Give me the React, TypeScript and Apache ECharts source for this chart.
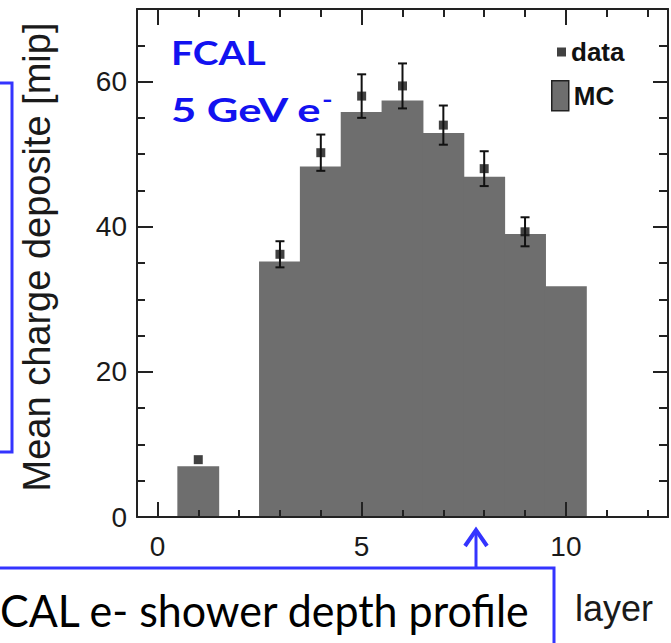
import React, { useEffect, useRef } from "react";
import * as echarts from "echarts";

// ---- data ----
const layers = [1, 2, 3, 4, 5, 6, 7, 8, 9, 10];
const mcValues = [7.0, 0, 35.2, 48.3, 55.8, 57.4, 52.9, 46.9, 39.0, 31.8];
const dataLayers = [1, 3, 4, 5, 6, 7, 8, 9];
const dataValues = [7.9, 36.2, 50.2, 58.0, 59.4, 54.0, 48.0, 39.3];
const dataErrors = [0, 1.8, 2.5, 3.0, 3.1, 2.7, 2.4, 2.0];
const xMajorTicks = [0, 5, 10];
const xMinorTicks = [0, 1, 2, 3, 4, 5, 6, 7, 8, 9, 10, 11, 12];
const yMajorTicks = [0, 20, 40, 60];

const AXIS_COLOR = "#222";
const BLUE = "#3434ff";
const TITLE_BLUE = "#1212f0";
const FONT = "'Liberation Sans', Arial, sans-serif";
const SLIDE_FONT = "Lato, 'Open Sans', sans-serif";

export default function App() {
  const ref = useRef<HTMLDivElement>(null);

  useEffect(() => {
    document.body.style.margin = "0";
    if (!ref.current) return;
    const chart = echarts.init(ref.current, undefined, { renderer: "svg" });

    const xBase = (position: "top" | "bottom", values: number[], len: number, line: boolean, labels: boolean) => ({
      type: "value",
      gridIndex: 0,
      min: -0.5,
      max: 12.5,
      position,
      z: 10,
      axisLine: { show: line, onZero: false, lineStyle: { color: AXIS_COLOR, width: 2 } },
      axisTick: { show: true, inside: true, length: len, customValues: values, lineStyle: { color: AXIS_COLOR, width: 2 } },
      axisLabel: labels
        ? { show: true, customValues: xMajorTicks, margin: 15, fontSize: 28, color: "#1a1a1a", fontFamily: FONT }
        : { show: false },
      splitLine: { show: false },
    });

    const yBase = (position: "left" | "right", major: boolean, line: boolean, labels: boolean, len: number) => ({
      type: "value",
      gridIndex: 0,
      min: 0,
      max: 70,
      interval: major ? 20 : 5,
      position,
      z: 10,
      axisLine: { show: line, onZero: false, lineStyle: { color: AXIS_COLOR, width: 2 } },
      axisTick: major
        ? { show: true, inside: true, length: len, customValues: yMajorTicks, lineStyle: { color: AXIS_COLOR, width: 2 } }
        : { show: true, inside: true, length: len, lineStyle: { color: AXIS_COLOR, width: 2 } },
      axisLabel: labels
        ? { show: true, customValues: yMajorTicks, margin: 10, fontSize: 28, color: "#1a1a1a", fontFamily: FONT }
        : { show: false },
      splitLine: { show: false },
      ...(labels
        ? {
            name: "Mean charge deposite [mip]",
            nameLocation: "middle",
            nameGap: 81,
            nameRotate: 90,
            nameTextStyle: { fontSize: 38, color: "#1a1a1a", fontFamily: FONT, padding: [0, 0, 0, 12] },
          }
        : {}),
    });

    const mcData = layers.map((l, i) => [l, mcValues[i]]);
    const pts = dataLayers.map((l, i) => [l, dataValues[i]]);
    const errs = dataLayers.map((l, i) => [l, dataValues[i], dataErrors[i]]);

    chart.setOption({
      animation: false,
      backgroundColor: "#ffffff",
      grid: { left: 137, top: 9, width: 531, height: 508, outerBoundsMode: "none" },
      xAxis: [
        xBase("bottom", xMajorTicks, 15, true, true),
        xBase("bottom", xMinorTicks, 7, false, false),
        xBase("top", xMajorTicks, 16, true, false),
        xBase("top", xMinorTicks, 8, false, false),
      ],
      yAxis: [
        yBase("left", true, true, true, 16),
        yBase("left", false, false, false, 8),
        yBase("right", true, true, false, 15),
        yBase("right", false, false, false, 9),
      ],
      legend: [
        {
          data: [{ name: "data", icon: "rect" }],
          left: 557,
          top: 39,
          padding: 0,
          itemWidth: 9,
          itemHeight: 9,
          textStyle: { fontSize: 26, fontWeight: "bold", color: "#111", fontFamily: FONT },
        },
        {
          data: [{ name: "MC", icon: "rect", itemStyle: { borderColor: "#222", borderWidth: 1.5 } }],
          left: 551,
          top: 80,
          padding: 0,
          itemWidth: 17,
          itemHeight: 30,
          textStyle: { fontSize: 26, fontWeight: "bold", color: "#111", fontFamily: FONT },
        },
      ],
      series: [
        {
          name: "MC",
          type: "custom",
          xAxisIndex: 0,
          yAxisIndex: 0,
          data: mcData,
          itemStyle: { color: "#6e6e6e" },
          renderItem: (params: any, api: any) => {
            const x = api.value(0);
            const y = api.value(1);
            if (!y) return null;
            const p0 = api.coord([x - 0.5, y]);
            const p1 = api.coord([x + 0.5, 0]);
            return {
              type: "rect",
              shape: { x: p0[0] - 0.5, y: p0[1], width: p1[0] - p0[0] + 1, height: p1[1] - p0[1] },
              style: { fill: "#6e6e6e" },
            };
          },
        },
        {
          name: "data errors",
          type: "custom",
          xAxisIndex: 0,
          yAxisIndex: 0,
          data: errs,
          z: 4,
          renderItem: (params: any, api: any) => {
            const x = api.value(0);
            const v = api.value(1);
            const e = api.value(2);
            if (!e) return null;
            const top = api.coord([x, v + e]);
            const bot = api.coord([x, v - e]);
            const cap = 4.5;
            const st = { stroke: "#111", lineWidth: 2 };
            return {
              type: "group",
              children: [
                { type: "line", shape: { x1: top[0], y1: top[1], x2: bot[0], y2: bot[1] }, style: st },
                { type: "line", shape: { x1: top[0] - cap, y1: top[1], x2: top[0] + cap, y2: top[1] }, style: st },
                { type: "line", shape: { x1: bot[0] - cap, y1: bot[1], x2: bot[0] + cap, y2: bot[1] }, style: st },
              ],
            };
          },
        },
        {
          name: "data",
          type: "scatter",
          xAxisIndex: 0,
          yAxisIndex: 0,
          data: pts,
          symbol: "rect",
          symbolSize: 9,
          z: 5,
          itemStyle: { color: "#111" },
        },
      ],
      graphic: [
        {
          type: "text",
          x: 171,
          y: 36,
          scaleX: 1.18,
          style: { text: "FCAL", font: `bold 33px ${SLIDE_FONT}`, fill: TITLE_BLUE },
        },
        {
          type: "text",
          x: 171,
          y: 93,
          scaleX: 1.32,
          style: { text: "5 GeV e", font: `bold 33px ${SLIDE_FONT}`, fill: TITLE_BLUE },
        },
        {
          type: "text",
          x: 322,
          y: 88,
          scaleX: 1.3,
          style: { text: "-", font: `bold 22px ${SLIDE_FONT}`, fill: TITLE_BLUE },
        },
        {
          type: "polyline",
          shape: { points: [[0, 83], [12, 83], [12, 452], [0, 452]] },
          style: { stroke: BLUE, lineWidth: 3, fill: null },
        },
        {
          type: "polyline",
          shape: { points: [[0, 568], [554, 568], [554, 643]] },
          style: { stroke: BLUE, lineWidth: 3, fill: null },
        },
        {
          type: "line",
          shape: { x1: 476, y1: 568, x2: 476, y2: 530 },
          style: { stroke: BLUE, lineWidth: 3 },
        },
        {
          type: "polyline",
          shape: { points: [[465, 546], [476, 530], [487, 546]] },
          style: { stroke: BLUE, lineWidth: 4, fill: null },
        },
        {
          type: "text",
          x: 0,
          y: 610,
          scaleX: 0.955,
          style: {
            text: "CAL e- shower depth profile",
            font: `45px ${SLIDE_FONT}`,
            fill: "#000",
            textAlign: "left",
            textVerticalAlign: "middle",
          },
        },
        {
          type: "text",
          x: 575,
          y: 608,
          style: {
            text: "layer",
            font: "36px 'Liberation Sans', Arial, sans-serif",
            fill: "#1a1a1a",
            textAlign: "left",
            textVerticalAlign: "middle",
          },
        },
      ],
    });

    return () => chart.dispose();
  }, []);

  return <div ref={ref} style={{ width: 671, height: 643 }} />;
}
